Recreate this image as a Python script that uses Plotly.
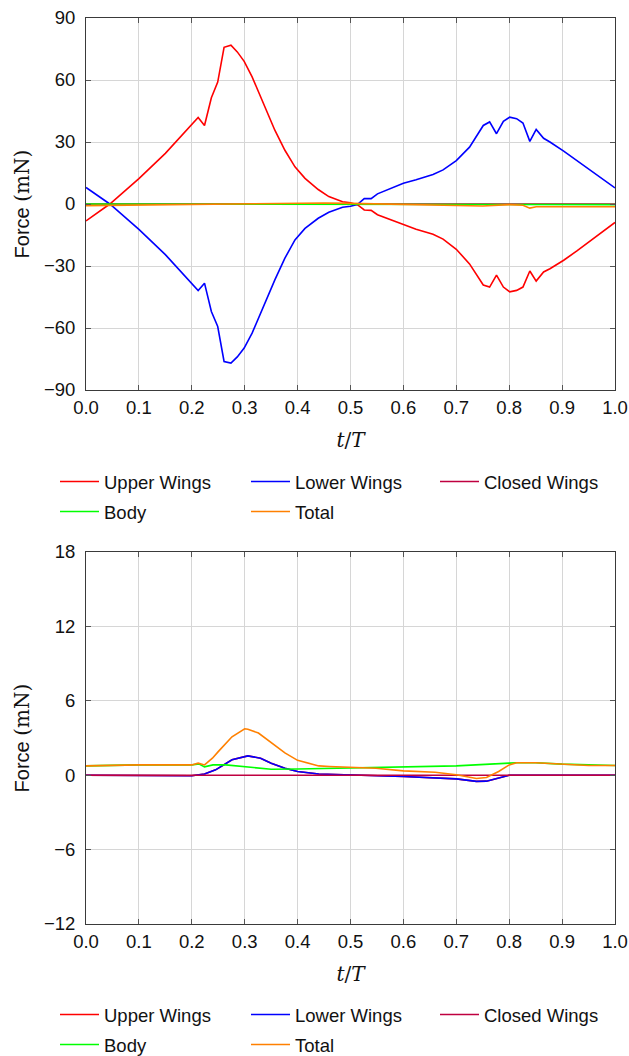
import plotly.graph_objects as go

W, H = 629, 1056

# ---------------- Top panel data ----------------
t_upper_top = [0.0, 0.045, 0.10, 0.15, 0.212, 0.224, 0.237, 0.249, 0.261, 0.274, 0.286, 0.299, 0.314,
               0.339, 0.357, 0.376, 0.395, 0.414, 0.439, 0.459, 0.485, 0.50, 0.513, 0.526, 0.539,
               0.551, 0.573, 0.60, 0.624, 0.656, 0.675, 0.70, 0.725, 0.751, 0.763, 0.776, 0.789,
               0.801, 0.814, 0.826, 0.839, 0.851, 0.865, 0.877, 0.903, 0.928, 0.953, 0.978, 1.0]
upper_top = [-8.2, 0.0, 12.3, 24.5, 41.9, 38.0, 51.4, 59.0, 75.8, 76.8, 73.6, 69.0, 61.5,
             47.0, 35.7, 26.0, 18.0, 12.4, 7.0, 3.6, 1.1, 0.6, -0.3, -2.9, -3.1,
             -5.2, -7.3, -10.0, -12.2, -14.6, -17.0, -21.9, -29.0, -39.2, -40.2, -34.4, -40.2,
             -42.5, -41.8, -40.2, -32.4, -37.3, -32.9, -31.3, -27.2, -22.7, -17.8, -13.0, -8.9]
lower_top = [8.0, 0.0, -12.3, -24.5, -41.9, -38.3, -52.0, -59.3, -76.2, -77.0, -74.0, -69.7, -62.5,
             -47.2, -36.7, -26.2, -17.4, -11.8, -6.9, -4.0, -1.6, -1.1, -0.3, 2.6, 2.6,
             4.9, 7.3, 10.0, 11.7, 14.3, 16.5, 21.0, 27.5, 38.0, 39.7, 34.0, 40.0,
             42.0, 41.3, 39.2, 30.3, 36.1, 31.8, 30.0, 25.6, 21.0, 16.2, 11.7, 7.8]
t_misc_top = [0.0, 0.1, 0.2, 0.3, 0.4, 0.45, 0.5, 0.6, 0.7, 0.75, 0.8, 0.826, 0.839, 0.851, 0.9, 1.0]
closed_top = [0.0] * len(t_misc_top)
body_top = [0.0, 0.0, 0.0, 0.0, 0.0, 0.0, -0.1, -0.2, -0.3, -0.3, -0.3, -0.3, -0.3, -0.3, -0.3, -0.3]
total_top = [-0.8, -0.5, -0.2, 0.0, 0.4, 0.5, 0.3, -0.3, -0.6, -1.0, -0.3, -0.6, -2.0, -1.3, -1.3, -1.3]

# ---------------- Bottom panel data ----------------
t_wing_bot = [0.0, 0.1, 0.2, 0.224, 0.245, 0.276, 0.30, 0.306, 0.33, 0.35, 0.376, 0.40, 0.44,
              0.50, 0.60, 0.70, 0.738, 0.757, 0.776, 0.80, 0.9, 1.0]
wing_bot = [0.0, 0.0, -0.05, 0.1, 0.43, 1.24, 1.5, 1.56, 1.37, 0.97, 0.56, 0.3, 0.1,
            0.02, -0.1, -0.3, -0.5, -0.48, -0.27, 0.0, 0.0, 0.0]
t_tot_bot = [0.0, 0.1, 0.2, 0.212, 0.224, 0.239, 0.25, 0.276, 0.30, 0.306, 0.326, 0.351, 0.376,
             0.40, 0.44, 0.46, 0.50, 0.548, 0.60, 0.66, 0.70, 0.738, 0.757, 0.78, 0.80, 0.814,
             0.85, 0.90, 0.95, 1.0]
total_bot = [0.75, 0.83, 0.83, 0.97, 0.83, 1.37, 1.9, 3.1, 3.74, 3.7, 3.4, 2.6, 1.8,
             1.2, 0.75, 0.7, 0.62, 0.56, 0.35, 0.24, 0.03, -0.27, -0.19, 0.3, 0.83, 1.0,
             1.0, 0.89, 0.78, 0.78]
t_body_bot = [0.0, 0.1, 0.2, 0.214, 0.224, 0.24, 0.264, 0.30, 0.33, 0.35, 0.40, 0.44, 0.50,
              0.60, 0.70, 0.80, 0.814, 0.85, 0.90, 1.0]
body_bot = [0.75, 0.83, 0.83, 0.9, 0.67, 0.83, 0.83, 0.7, 0.56, 0.48, 0.5, 0.54, 0.6,
            0.65, 0.75, 0.97, 1.0, 1.0, 0.89, 0.78]
closed_bot = [0.0] * len(t_wing_bot)

x_ticks = [0.0, 0.1, 0.2, 0.3, 0.4, 0.5, 0.6, 0.7, 0.8, 0.9, 1.0]
x_ticktext = ["0.0", "0.1", "0.2", "0.3", "0.4", "0.5", "0.6", "0.7", "0.8", "0.9", "1.0"]
y_ticks_top = [-90, -60, -30, 0, 30, 60, 90]
y_ticks_bot = [-12, -6, 0, 6, 12, 18]

names = ["Upper Wings", "Lower Wings", "Closed Wings", "Body", "Total"]
colors = ["#FF0000", "#0000FF", "#BF0040", "#00FF00", "#FF8000"]

FONT = "Liberation Sans, Arial, Helvetica, sans-serif"
SERIF = "DejaVu Serif, Liberation Serif, serif"
FS = 18.5

fig = go.Figure()

def add_panel(xa, ya, series, legends):
    for (name, color, tx, ty), lg in zip(series, legends):
        fig.add_trace(go.Scatter(x=tx, y=ty, mode="lines", name=name,
                                 line=dict(color=color, width=1.6),
                                 xaxis=xa, yaxis=ya, legend=lg, showlegend=True))

add_panel("x", "y", [
    (names[0], colors[0], t_upper_top, upper_top),
    (names[1], colors[1], t_upper_top, lower_top),
    (names[2], colors[2], t_misc_top, closed_top),
    (names[3], colors[3], t_misc_top, body_top),
    (names[4], colors[4], t_misc_top, total_top),
], ["legend", "legend", "legend2", "legend3", "legend3"])

add_panel("x2", "y2", [
    (names[0], colors[0], t_wing_bot, wing_bot),
    (names[1], colors[1], t_wing_bot, wing_bot),
    (names[2], colors[2], t_wing_bot, closed_bot),
    (names[3], colors[3], t_body_bot, body_bot),
    (names[4], colors[4], t_tot_bot, total_bot),
], ["legend4", "legend4", "legend5", "legend6", "legend6"])

def py(pix):
    return 1 - pix / H

def pxf(pix):
    return pix / W

axis_common = dict(
    showline=True, linecolor="#3a3a3a", linewidth=1, mirror="ticks",
    ticks="inside", ticklen=5, tickcolor="#555555", tickwidth=1,
    showgrid=True, gridcolor="#d6d6d6", gridwidth=1, zeroline=False,
    tickfont=dict(family=FONT, size=FS, color="#111111"), automargin=False,
    ticklabeloverflow="allow",
)

xtitle = dict(text="<i>t</i>/<i>T</i>", font=dict(family=SERIF, size=20, color="#111111"), standoff=15)
ytitle = dict(text='Force <span style="font-family:DejaVu Serif">(mN)</span>',
              font=dict(family=FONT, size=20, color="#111111"), standoff=8)

fig.update_layout(
    width=W, height=H,
    margin=dict(l=86, r=W - 615.5, t=0, b=0, autoexpand=False),
    paper_bgcolor="white", plot_bgcolor="white",
    font=dict(family=FONT, size=FS, color="#111111"),
    xaxis=dict(domain=[0, 1], range=[0, 1], tickvals=x_ticks, ticktext=x_ticktext,
               anchor="y", title=xtitle, ticklabelstandoff=1, **axis_common),
    yaxis=dict(domain=[py(390), py(18)], range=[-90, 90], tickvals=y_ticks_top,
               anchor="x", title=ytitle, ticklabelstandoff=6, **axis_common),
    xaxis2=dict(domain=[0, 1], range=[0, 1], tickvals=x_ticks, ticktext=x_ticktext,
                anchor="y2", title=xtitle, ticklabelstandoff=1, **axis_common),
    yaxis2=dict(domain=[py(924), py(552)], range=[-12, 18], tickvals=y_ticks_bot,
                anchor="x2", title=ytitle, ticklabelstandoff=6, **axis_common),
)

leg_common = dict(orientation="h", xref="container", yref="container", xanchor="left",
                  yanchor="middle", entrywidth=137, entrywidthmode="pixels",
                  bgcolor="rgba(0,0,0,0)", font=dict(family=FONT, size=FS, color="#111111"),
                  itemwidth=39, tracegroupgap=0)
col1 = pxf(62 - 7)
col3 = pxf(442 - 7)
fig.update_layout(
    legend=dict(x=col1, y=py(482), **leg_common),
    legend2=dict(x=col3, y=py(482), **leg_common),
    legend3=dict(x=col1, y=py(512), **leg_common),
    legend4=dict(x=col1, y=py(1015), **leg_common),
    legend5=dict(x=col3, y=py(1015), **leg_common),
    legend6=dict(x=col1, y=py(1045), **leg_common),
)

# remove the browser's default 8 px page margin so the figure fills the window exactly
fig.write_html("out.html", config={"displayModeBar": False},
               post_script="document.body.style.margin='0';document.body.style.overflow='hidden';")
